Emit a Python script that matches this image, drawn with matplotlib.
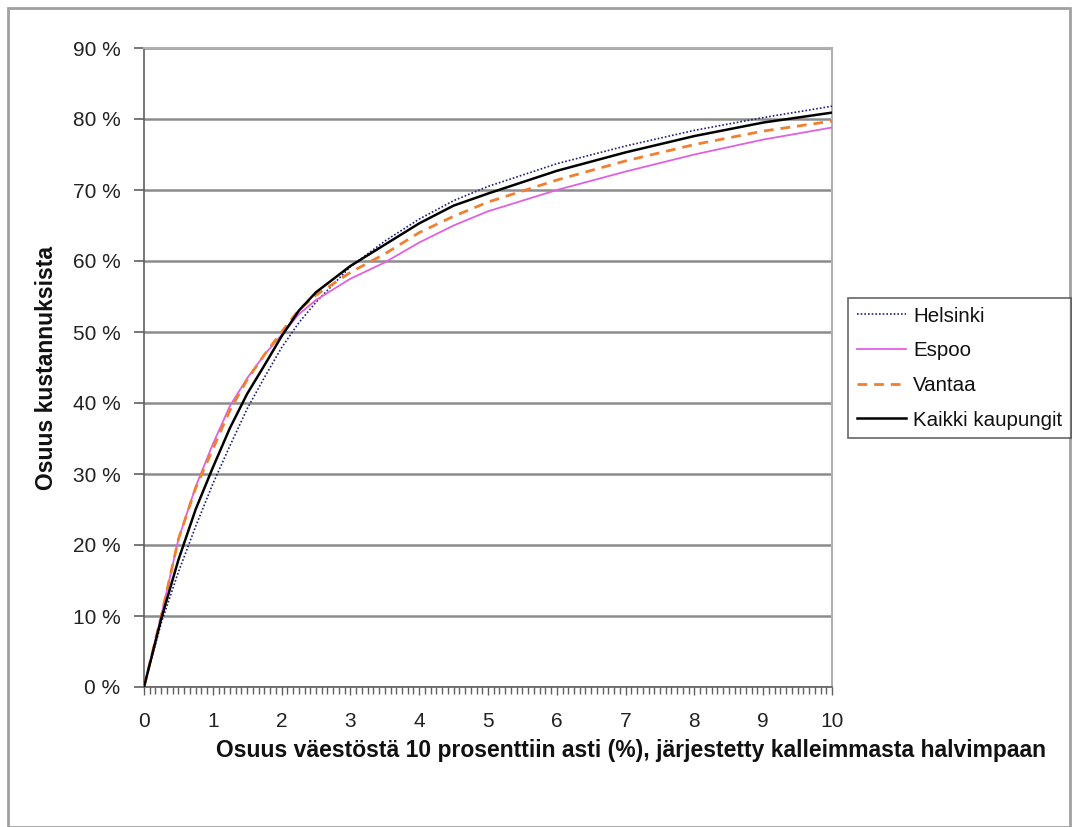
import matplotlib
matplotlib.use("Agg")
import matplotlib.pyplot as plt
from matplotlib.ticker import MultipleLocator, FuncFormatter
from matplotlib.patches import Rectangle

plt.rcParams['font.family'] = ['Liberation Sans', 'DejaVu Sans']

x = [0, 0.25, 0.5, 0.75, 1, 1.25, 1.5, 1.75, 2, 2.25, 2.5, 3, 3.5, 4, 4.5, 5, 6, 7, 8, 9, 10]
helsinki = [0, 9.0, 16.2, 22.6, 28.6, 34.0, 39.2, 43.6, 47.8, 51.3, 54.2, 59.2, 62.8, 65.9, 68.5, 70.5, 73.7, 76.2, 78.4, 80.2, 81.8]
espoo    = [0, 10.0, 20.8, 28.2, 34.2, 39.6, 43.5, 46.8, 49.6, 52.5, 54.5, 57.5, 59.8, 62.6, 65.0, 67.0, 70.0, 72.6, 75.0, 77.1, 78.8]
vantaa   = [0, 10.0, 20.8, 28.0, 33.5, 39.0, 43.3, 46.8, 50.0, 53.1, 55.2, 58.4, 61.0, 64.0, 66.3, 68.3, 71.4, 74.1, 76.4, 78.3, 79.7]
kaikki   = [0, 9.6, 17.9, 25.0, 30.9, 36.5, 41.3, 45.3, 49.4, 53.0, 55.6, 59.3, 62.3, 65.3, 67.8, 69.5, 72.7, 75.3, 77.6, 79.5, 80.9]

labels = ["Helsinki", "Espoo", "Vantaa", "Kaikki kaupungit"]
y_ticks = [0, 10, 20, 30, 40, 50, 60, 70, 80, 90]
x_ticks = [0, 1, 2, 3, 4, 5, 6, 7, 8, 9, 10]

W, H = 1072, 827
fig = plt.figure(figsize=(W / 100, H / 100), dpi=100)
fig.patch.set_facecolor('white')

# outer chart border
fig.patches.append(Rectangle((8 / W, 0), (W - 10) / W, 1 - 8 / H, transform=fig.transFigure,
                             fill=False, edgecolor='#a0a0a0', linewidth=2))

ax = fig.add_axes([144 / W, 1 - 687 / H, (832 - 144) / W, (687 - 48) / H])

ax.plot(x, helsinki, color='#1f1f7a', linestyle=(0, (1, 1.2)), linewidth=1.2, label=labels[0], zorder=3)
ax.plot(x, espoo, color='#e060e0', linestyle='-', linewidth=1.3, label=labels[1], zorder=3)
ax.plot(x, vantaa, color='#f08030', linestyle=(0, (3.5, 2.5)), linewidth=2.0, label=labels[2], zorder=3)
ax.plot(x, kaikki, color='#000000', linestyle='-', linewidth=1.8, label=labels[3], zorder=4)

ax.set_xlim(0, 10)
ax.set_ylim(0, 90)
ax.set_yticks(y_ticks)
ax.yaxis.set_major_formatter(FuncFormatter(lambda v, p: f"{int(round(v))} %"))
ax.set_xticks(x_ticks)
ax.xaxis.set_minor_locator(MultipleLocator(1 / 12))
ax.grid(axis='y', color='#8c8c8c', linewidth=1.8, zorder=1)
ax.set_axisbelow(True)

for s in ['top', 'right']:
    ax.spines[s].set_color('#b0b0b0')
    ax.spines[s].set_linewidth(1.5)
for s in ['left', 'bottom']:
    ax.spines[s].set_color('#606060')
    ax.spines[s].set_linewidth(1.2)

ax.tick_params(axis='y', direction='out', length=7, width=1.2, color='#606060',
               labelsize=15, pad=10, labelcolor='#222222')
ax.tick_params(axis='x', which='major', direction='out', length=6, width=1.0, color='#606060',
               labelsize=15, pad=12, labelcolor='#222222')
ax.tick_params(axis='x', which='minor', direction='out', length=5, width=1.0, color='#606060')

fig.text(631 / W, 1 - 751 / H, "Osuus väestöstä 10 prosenttiin asti (%), järjestetty kalleimmasta halvimpaan",
         ha='center', va='center', fontsize=16.5, fontweight='bold', color='#111111')
fig.text(47 / W, 1 - 368 / H, "Osuus kustannuksista", ha='center', va='center', rotation=90,
         fontsize=16.5, fontweight='bold', color='#111111')

leg = fig.legend(loc='upper left', bbox_to_anchor=(848 / W, 1 - 298 / H), fontsize=14.8,
                 handlelength=2.4, handletextpad=0.35, labelspacing=0.76, borderpad=0.42,
                 borderaxespad=0, fancybox=False, frameon=True)
leg.get_frame().set_edgecolor('#404040')
leg.get_frame().set_linewidth(1.2)
for t in leg.get_texts():
    t.set_color('#111111')

fig.savefig("out.png", dpi=100, facecolor='white')
